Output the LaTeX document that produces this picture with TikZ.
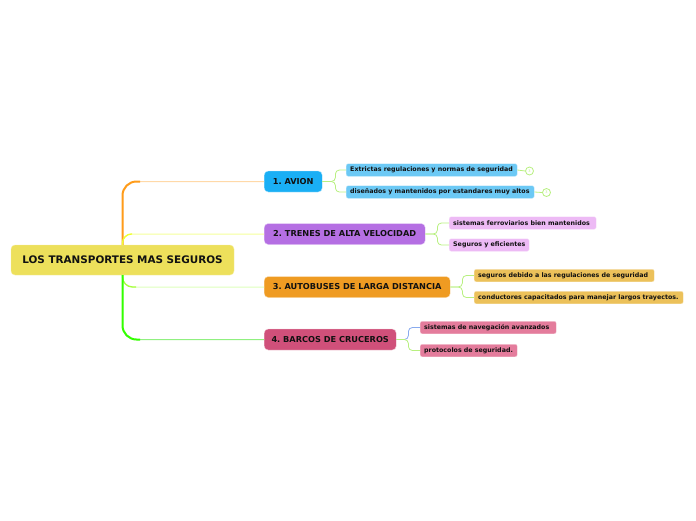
\documentclass[tikz,border=0pt]{standalone}
\usepackage{fontspec}
\setmainfont{DejaVu Sans}
\frenchspacing
\definecolor{cfill}{HTML}{EDE05B}
\definecolor{aone}{HTML}{1AAFF5}
\definecolor{atwo}{HTML}{B56FE3}
\definecolor{athree}{HTML}{EF9B22}
\definecolor{afour}{HTML}{D0507A}
\definecolor{bone}{HTML}{6CC9F5}
\definecolor{btwo}{HTML}{EDBAF5}
\definecolor{bthree}{HTML}{ECC15A}
\definecolor{bfour}{HTML}{E47C9C}
\definecolor{txt}{HTML}{111111}
\definecolor{lorange}{HTML}{FFD9A8}
\definecolor{sorange}{HTML}{FF9C1A}
\definecolor{lyellow}{HTML}{F4FF9A}
\definecolor{syellow}{HTML}{EEFF30}
\definecolor{lgreen}{HTML}{DDFFBB}
\definecolor{sgreen3}{HTML}{A8FF40}
\definecolor{sgreen}{HTML}{33FF00}
\definecolor{mgreen}{HTML}{90F080}
\definecolor{subline}{HTML}{B8F080}
\definecolor{bluel}{HTML}{88AAEE}
\tikzset{
  central/.style={fill=cfill, draw=cfill!60!white, rounded corners=4pt, minimum height=30pt, inner sep=0pt, font=\bfseries\fontsize{10.4}{12}\selectfont, text=txt},
  mainbox/.style={draw=white!70!#1, fill=#1, rounded corners=4pt, minimum height=21pt, inner sep=0pt, anchor=west, font=\bfseries\fontsize{8.2}{10}\selectfont, text=txt},
  subbox/.style={draw=white!60!#1, fill=#1, rounded corners=2pt, minimum height=12.5pt, inner xsep=4pt, inner ysep=0pt, anchor=west, font=\bfseries\fontsize{6.3}{7.5}\selectfont, text=txt},
  infoc/.style={circle, draw=subline, line width=0.8pt, fill=white, minimum size=8pt, inner sep=0pt, font=\fontsize{3.5}{4}\selectfont, text=subline},
  trunkpale/.style={line width=1pt, rounded corners=#1},
  conn/.style={draw=subline, line width=0.8pt, rounded corners=4pt},
}
\begin{document}
\begin{tikzpicture}[x=1pt,y=-1pt]
\useasboundingbox (0,0) rectangle (696,520);
% central
\node[central, minimum width=223pt] (c) at (122.5,260) {LOS TRANSPORTES MAS SEGUROS};
% main nodes
\node[mainbox=aone, minimum width=58pt] (n1) at (264,181.5) {1. AVION};
\node[mainbox=atwo, minimum width=161pt] (n2) at (264,234) {2. TRENES DE ALTA VELOCIDAD};
\node[mainbox=athree, minimum width=186pt] (n3) at (264,287) {3. AUTOBUSES DE LARGA DISTANCIA};
\node[mainbox=afour, minimum width=132pt] (n4) at (264,339.5) {4. BARCOS DE CRUCEROS};
% sub nodes
\node[subbox=bone] (s11) at (346,170) {\makebox[163pt][l]{Extrictas regulaciones y normas de seguridad}};
\node[subbox=bone] (s12) at (346,192) {\makebox[180pt][l]{diseñados y mantenidos por estandares muy altos}};
\node[subbox=btwo] (s21) at (449,223) {\makebox[139pt][l]{sistemas ferroviarios bien mantenidos}};
\node[subbox=btwo] (s22) at (449,245) {\makebox[72pt][l]{Seguros y eficientes}};
\node[subbox=bthree] (s31) at (474,275.5) {\makebox[172pt][l]{seguros debido a las regulaciones de seguridad}};
\node[subbox=bthree] (s32) at (474,297.5) {\makebox[201pt][l]{conductores capacitados para manejar largos trayectos.}};
\node[subbox=bfour] (s41) at (420,327.5) {\makebox[128pt][l]{sistemas de navegación avanzados}};
\node[subbox=bfour] (s42) at (420,350.5) {\makebox[89pt][l]{protocolos de seguridad.}};
% info circles
\node[infoc] (i1) at (529.5,171) {3};
\node[infoc] (i2) at (546.5,192.5) {3};
% trunk connectors (pale full paths)
\draw[lorange, trunkpale=14pt] (c.north) |- (n1.west);
\draw[lyellow, trunkpale=9pt] (c.north) |- (n2.west);
\draw[lgreen, trunkpale=10pt] (c.south) |- (n3.west);
\draw[mgreen, trunkpale=14pt] (c.south) |- (n4.west);
% strong parts
\coordinate (k1) at (140,181.5);
\coordinate (k2) at (132,234);
\coordinate (k3) at (136,287);
\coordinate (k4) at (140,339.5);
\draw[sorange, line width=2pt, rounded corners=14pt] (c.north) |- (k1);
\draw[syellow, line width=1.3pt, rounded corners=9pt] (c.north) |- (k2);
\draw[sgreen3, line width=1.3pt, rounded corners=10pt] (c.south) |- (k3);
\draw[sgreen, line width=2pt, rounded corners=14pt] (c.south) |- (k4);
% sub connectors
\draw[conn] (n1.east) -- ++(13,0) |- (s11.west);
\draw[conn] (n1.east) -- ++(13,0) |- (s12.west);
\draw[conn] (n2.east) -- ++(12,0) |- (s21.west);
\draw[conn] (n2.east) -- ++(12,0) |- (s22.west);
\draw[conn] (n3.east) -- ++(12,0) |- (s31.west);
\draw[conn] (n3.east) -- ++(12,0) |- (s32.west);
\draw[conn, draw=bluel] (n4.east) -- ++(12,0) |- (s41.west);
\draw[conn] (n4.east) -- ++(12,0) |- (s42.west);
\draw[subline, line width=0.8pt] (s11.east) -- (i1.west);
\draw[subline, line width=0.8pt] (s12.east) -- (i2.west);
\end{tikzpicture}
\end{document}
